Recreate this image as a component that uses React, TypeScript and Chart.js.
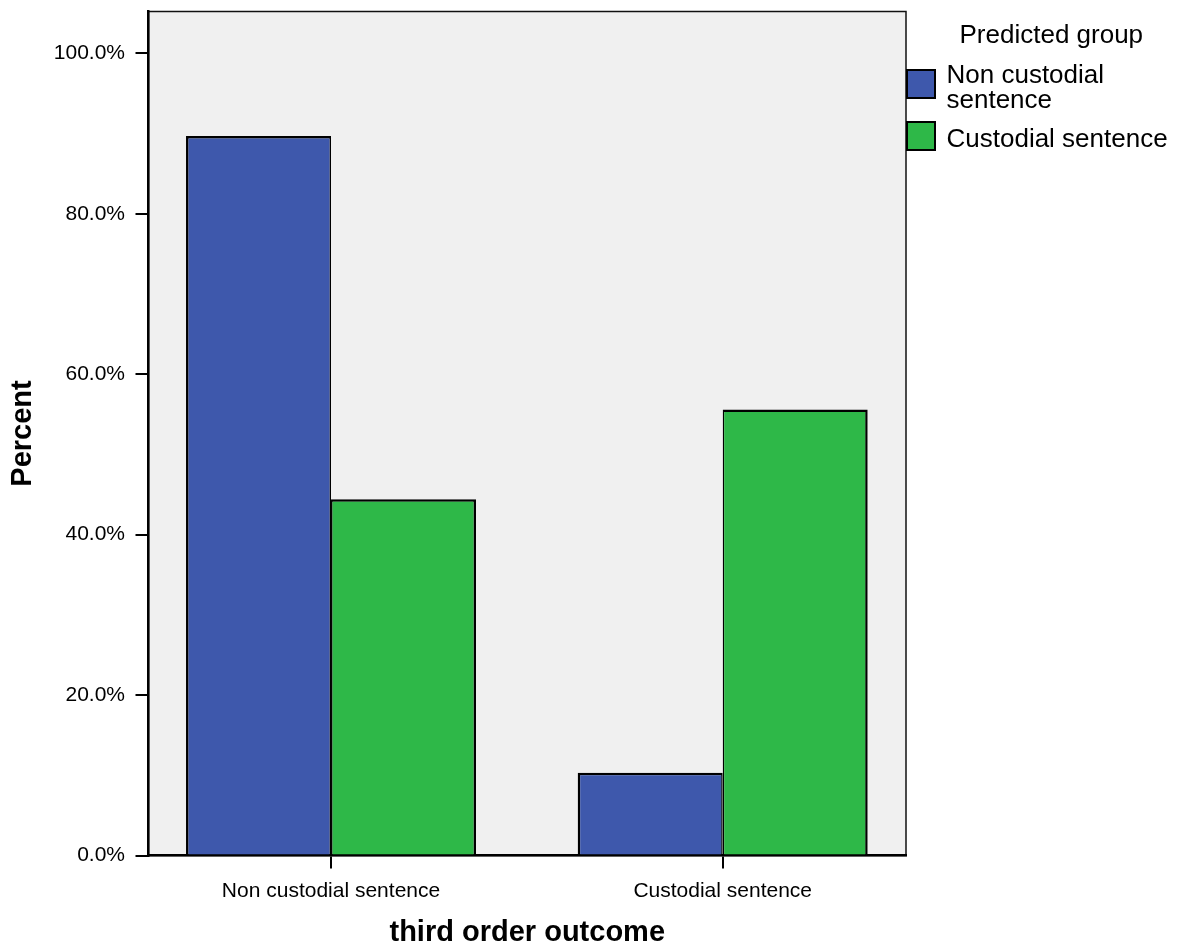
import React, { useEffect, useRef } from "react";
import { Chart, registerables } from "chart.js";

Chart.register(...registerables);

// ---- data ----
const categories = ["Non custodial sentence", "Custodial sentence"];
const seriesNames = ["Non custodial sentence", "Custodial sentence"];
const predNonCustodial = [89.7, 10.3];
const predCustodial = [44.4, 55.6];
const yTickValues = [0, 20, 40, 60, 80, 100];
const legendTitle = "Predicted group";
const xTitle = "third order outcome";
const yTitle = "Percent";
const seriesColors = ["#3E58AC", "#2EB848"];

const FONT = "'Liberation Sans', Arial, Helvetica, sans-serif";

function wrapText(ctx: CanvasRenderingContext2D, text: string, maxW: number): string[] {
  const words = text.split(" ");
  const lines: string[] = [];
  let cur = "";
  for (const w of words) {
    const test = cur ? cur + " " + w : w;
    if (ctx.measureText(test).width > maxW && cur) {
      lines.push(cur);
      cur = w;
    } else {
      cur = test;
    }
  }
  if (cur) lines.push(cur);
  return lines;
}

const plotBgPlugin = {
  id: "plotBg",
  beforeDraw(chart: any) {
    const { ctx, chartArea: a } = chart;
    ctx.save();
    ctx.fillStyle = "#F0F0F0";
    ctx.fillRect(a.left, a.top, a.right - a.left, a.bottom - a.top);
    ctx.lineWidth = 1.5;
    ctx.strokeStyle = "#111";
    ctx.strokeRect(a.left, a.top, a.right - a.left, a.bottom - a.top);
    ctx.restore();
  },
};

const legendPlugin = {
  id: "spssLegend",
  afterDraw(chart: any) {
    const ctx: CanvasRenderingContext2D = chart.ctx;
    const a = chart.chartArea;
    ctx.save();
    ctx.fillStyle = "#000";
    ctx.font = `26px ${FONT}`;
    ctx.textAlign = "left";
    ctx.textBaseline = "alphabetic";
    ctx.fillText(legendTitle, a.right + 53.5, 43);
    const boxX = a.right + 1;
    const textX = a.right + 40.5;
    const maxW = chart.width - textX - 6;
    const capH = 18.6;
    const lh = 25;
    let y = 70;
    chart.data.datasets.forEach((ds: any) => {
      const lines = wrapText(ctx, ds.label, maxW);
      ctx.fillStyle = ds.backgroundColor;
      ctx.fillRect(boxX, y, 28, 28);
      ctx.lineWidth = 2;
      ctx.strokeStyle = "#000";
      ctx.strokeRect(boxX, y, 28, 28);
      const center = y + 14;
      const blockH = capH + (lines.length - 1) * lh;
      const base = center - blockH / 2 + capH + 2;
      ctx.fillStyle = "#000";
      lines.forEach((ln, i) => ctx.fillText(ln, textX, base + i * lh));
      y += lines.length * lh + 2;
    });
    ctx.restore();
  },
};

export default function App() {
  const ref = useRef<HTMLCanvasElement | null>(null);

  useEffect(() => {
    if (!ref.current) return;
    Chart.defaults.color = "#000";
    const seriesValues = [predNonCustodial, predCustodial];
    const chart = new Chart(ref.current, {
      type: "bar",
      data: {
        datasets: seriesNames.map((name, si) => ({
          label: name,
          data: categories.map((_, ci) => ({ x: ci, y: seriesValues[si][ci] })),
          backgroundColor: seriesColors[si],
          borderColor: "#000",
          borderWidth:
            si === 0
              ? { left: 2.5, top: 2.5, right: 1.5, bottom: 0 }
              : { left: 1.5, top: 2.5, right: 2.5, bottom: 0 },
          borderSkipped: "bottom",
          barThickness: 145,
          inflateAmount: 0,
        })),
      },
      options: {
        responsive: false,
        animation: false,
        layout: { padding: { top: 11.5, left: 0, right: 280, bottom: 0 } },
        plugins: {
          legend: { display: false },
          tooltip: { enabled: false },
        },
        scales: {
          x: {
            type: "linear",
            offset: false,
            min: -0.466,
            max: 1.468,
            z: 1,
            afterBuildTicks: (s: any) => {
              s.ticks = categories.map((_, i) => ({ value: i }));
            },
            afterFit: (s: any) => {
              s.height = 96.5;
              s.paddingLeft = 0;
              s.paddingRight = 0;
            },
            grid: {
              display: true,
              offset: false,
              drawOnChartArea: false,
              drawTicks: true,
              tickLength: 13,
              color: "#000",
              lineWidth: 2,
            },
            border: { display: true, color: "#000", width: 2.5 },
            ticks: {
              autoSkip: false,
              maxRotation: 0,
              padding: 10,
              color: "#000",
              font: { family: FONT, size: 21 },
              callback: (v: any) => categories[Number(v)] ?? "",
            },
            title: {
              display: true,
              text: xTitle,
              color: "#000",
              font: { family: FONT, size: 29, weight: "bold" },
              padding: { top: 0, bottom: 1.2 },
            },
          },
          y: {
            type: "linear",
            min: 0,
            max: 105.21,
            z: 1,
            afterBuildTicks: (s: any) => {
              s.ticks = yTickValues.map((v) => ({ value: v }));
            },
            afterFit: (s: any) => {
              s.width = 148.5;
              s.paddingTop = 0;
              s.paddingBottom = 0;
            },
            grid: {
              display: true,
              drawOnChartArea: false,
              drawTicks: true,
              tickLength: 13,
              color: "#000",
              lineWidth: 2,
            },
            border: { display: true, color: "#000", width: 2.5 },
            ticks: {
              padding: 10.5,
              color: "#000",
              font: { family: FONT, size: 21 },
              callback: (v: any) => Number(v).toFixed(1) + "%",
            },
            title: {
              display: true,
              text: yTitle,
              color: "#000",
              font: { family: FONT, size: 29, weight: "bold" },
              padding: { top: 5.7, bottom: 0 },
            },
          },
        },
      },
      plugins: [plotBgPlugin, legendPlugin],
    } as any);
    return () => chart.destroy();
  }, []);

  return (
    <div style={{ position: "absolute", left: 0, top: 0, width: 1186, height: 952 }}>
      <canvas ref={ref} width={1186} height={952} style={{ display: "block" }} />
    </div>
  );
}
